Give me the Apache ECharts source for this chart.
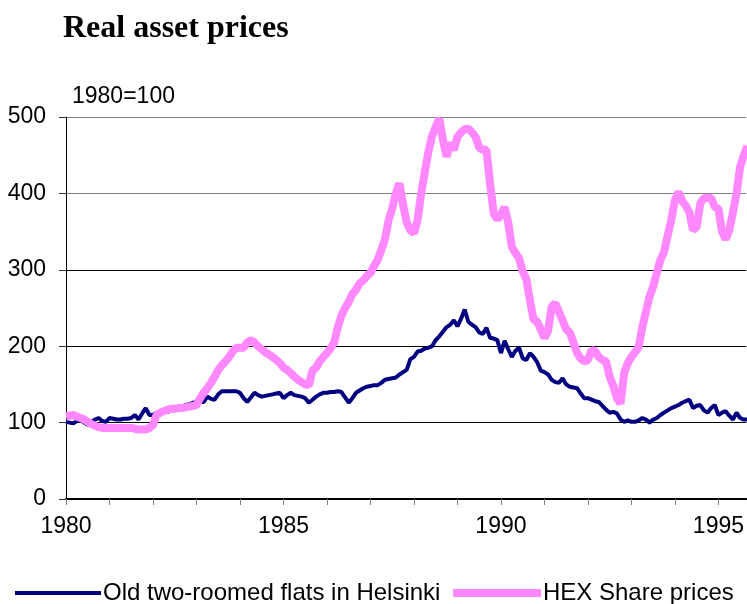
<!DOCTYPE html>
<html>
<head>
<meta charset="utf-8">
<script src="https://cdn.jsdelivr.net/npm/echarts@6/dist/echarts.min.js"></script>
<style>
  html, body { margin: 0; padding: 0; background: #fff; }
  #chart { width: 747px; height: 604px; }
</style>
</head>
<body>
<div id="chart"></div>
<script>
// monthly series, starting January 1980
var startYear = 1980;
var flats = [
    101,100,99,102,104,100,97,101,104,106,102,101,
    106,105,104,104,105,105,106,110,104,112,119,110,
    110,113,113,114,114,116,118,119,121,123,124,126,
    127,127,127,134,131,130,137,141,141,141,141,141,
    139,132,127,133,139,136,134,135,136,137,138,139,
    132,136,139,136,135,134,132,126,130,134,137,139,
    139,140,140,141,140,133,126,132,139,142,145,147,
    148,149,149,152,156,157,158,159,163,166,169,183,
    186,193,194,197,198,200,208,213,219,225,228,234,
    226,236,248,232,228,225,218,216,224,211,210,208,
    191,207,196,186,194,198,184,182,191,186,179,168,
    166,163,156,153,152,158,150,147,146,145,138,132,
    132,130,128,127,122,117,113,114,112,104,101,103,
    101,101,103,106,104,100,104,106,110,113,116,119,
    121,123,126,128,130,119,122,123,116,113,119,123,
    110,113,115,109,104,113,106,104,104
];
var hex = [
    108,109,110,108,106,104,101,98,96,94,93,93,
    93,93,93,93,93,93,93,92,91,91,91,93,
    97,110,113,115,117,118,118,119,119,120,121,122,
    123,132,139,145,152,160,169,175,180,186,193,198,
    198,198,205,208,205,200,196,192,189,186,182,178,
    172,169,165,160,156,153,150,149,168,172,180,186,
    191,197,205,225,240,250,258,268,274,282,286,292,
    296,305,313,326,340,365,380,400,413,385,362,352,
    348,365,400,428,455,475,487,498,470,448,466,457,
    474,480,484,485,480,474,460,457,457,413,374,366,
    372,382,362,330,322,315,298,288,260,235,232,222,
    211,220,252,256,245,234,222,218,205,191,184,180,
    182,195,193,186,182,180,160,148,132,125,165,178,
    186,192,199,225,245,265,278,296,313,323,345,365,
    391,402,390,384,375,352,356,387,394,394,394,382,
    380,350,340,352,375,400,435,450,462
];
var seriesNames = ['Old two-roomed flats in Helsinki', 'HEX Share prices'];
var yearLabels = [1980, 1985, 1990, 1995];

function toPairs(arr) {
    var out = [];
    for (var i = 0; i < arr.length; i++) {
        out.push([startYear + i / 12, arr[i]]);
    }
    return out;
}

var font = 'Liberation Sans, Arial, sans-serif';
var legendText = { fontFamily: font, fontSize: 24, color: '#000', padding: [0, 0, 0, -3] };

var option = {
    animation: false,
    backgroundColor: '#fff',
    graphic: [
        {
            type: 'text',
            left: 63,
            top: 13,
            style: {
                text: 'Real asset prices',
                font: 'bold 32px "Liberation Serif", "Times New Roman", serif',
                fill: '#000'
            }
        },
        {
            type: 'text',
            left: 72,
            top: 85,
            style: {
                text: '1980=100',
                font: '23px ' + font,
                fill: '#000'
            }
        }
    ],
    legend: [
        {
            left: 10,
            top: 576,
            icon: 'rect',
            itemWidth: 86,
            itemHeight: 4,
            textStyle: legendText,
            data: [seriesNames[0]]
        },
        {
            left: 448,
            top: 576,
            icon: 'rect',
            itemWidth: 88,
            itemHeight: 8,
            textStyle: legendText,
            data: [seriesNames[1]]
        }
    ],
    grid: {
        left: 66,
        right: 0,
        top: 117,
        bottom: 105
    },
    xAxis: {
        type: 'value',
        min: 1980,
        max: 1995.64,
        interval: 1,
        axisLine: { onZero: false, lineStyle: { color: '#000', width: 2 } },
        axisTick: { length: 6, lineStyle: { color: '#808080' } },
        axisLabel: {
            margin: 16,
            fontFamily: font,
            fontSize: 23,
            color: '#000',
            showMaxLabel: false,
            formatter: function (v) {
                return yearLabels.indexOf(v) >= 0 ? String(v) : '';
            }
        },
        splitLine: { show: false }
    },
    yAxis: {
        type: 'value',
        min: 0,
        max: 500,
        interval: 100,
        axisLine: { show: true, lineStyle: { color: '#000', width: 1 } },
        axisTick: { show: true, length: 7, lineStyle: { color: '#333' } },
        axisLabel: { margin: 20, fontFamily: font, fontSize: 23, color: '#000' },
        splitLine: {
            lineStyle: {
                color: ['#000', '#000', '#000', '#000', '#808080', '#808080'],
                width: 1
            }
        }
    },
    series: [
        {
            name: seriesNames[0],
            type: 'line',
            showSymbol: false,
            symbol: 'none',
            color: '#000080',
            lineStyle: { width: 4, color: '#000080' },
            data: toPairs(flats)
        },
        {
            name: seriesNames[1],
            type: 'line',
            showSymbol: false,
            symbol: 'none',
            color: '#ff88ff',
            lineStyle: { width: 8, color: '#ff88ff' },
            data: toPairs(hex)
        }
    ]
};

var myChart = echarts.init(document.getElementById('chart'));
myChart.setOption(option);
</script>
</body>
</html>
